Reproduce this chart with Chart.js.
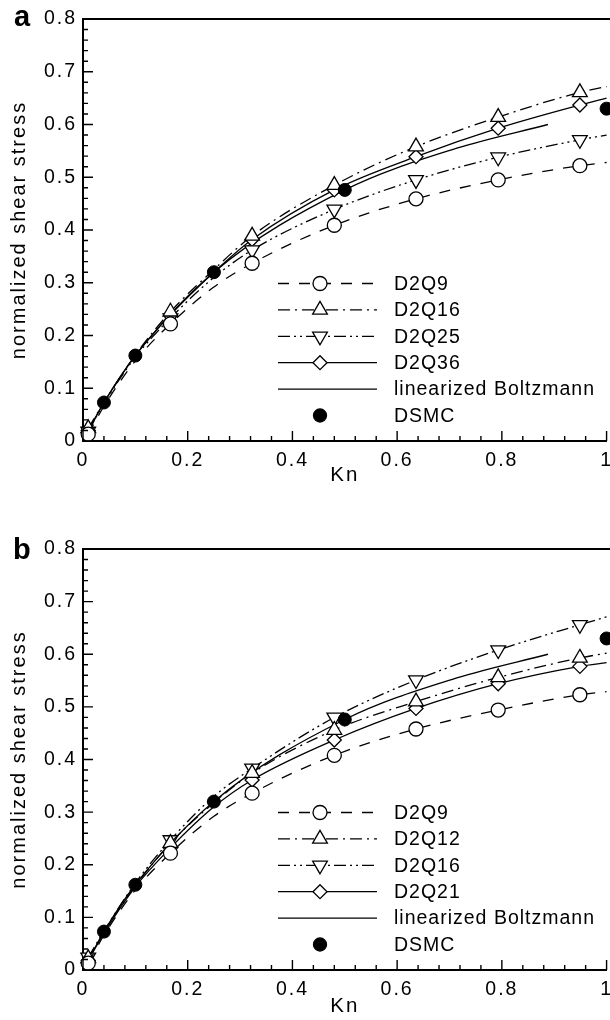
<!DOCTYPE html>
<html>
<head>
<meta charset="utf-8">
<script src="https://cdn.jsdelivr.net/npm/chart.js@4.4.0/dist/chart.umd.min.js"></script>
<style>
  html, body { margin: 0; padding: 0; background: #fff; overflow: hidden; width: 610px; height: 1020px; }
  canvas { position: absolute; left: 0; }
  #chartA { top: 0; }
  #chartB { top: 510px; }
</style>
</head>
<body>
<canvas id="chartA" width="620" height="510"></canvas>
<canvas id="chartB" width="620" height="510"></canvas>
<script>
// Kn positions along the lattice curves (symbols only drawn at knMarks)
const knCurve = [0.01, 0.04, 0.1, 0.167, 0.25, 0.323, 0.48, 0.636, 0.793, 0.949, 1.0];
const knMarks = [0.01, 0.167, 0.323, 0.48, 0.636, 0.793, 0.949];
const knDsmc  = [0.04, 0.1, 0.25, 0.5, 1.0];
const knBoltz = [0.01, 0.04, 0.1, 0.25, 0.5, 0.714, 0.888];

// reference solutions (same in both panels)
const dsmc  = [0.073, 0.162, 0.32, 0.476, 0.63];
const boltz = [0.018, 0.073, 0.162, 0.32, 0.476, 0.555, 0.600];

// panel a
const aD2Q9  = [0.013, 0.066, 0.152, 0.222, 0.292, 0.337, 0.409, 0.459, 0.495, 0.522, 0.528];
const aD2Q16 = [0.024, 0.073, 0.163, 0.245, 0.325, 0.389, 0.485, 0.558, 0.614, 0.661, 0.672];
const aD2Q25 = [0.018, 0.071, 0.159, 0.233, 0.310, 0.362, 0.439, 0.495, 0.538, 0.571, 0.580];
const aD2Q36 = [0.020, 0.073, 0.162, 0.239, 0.320, 0.382, 0.476, 0.539, 0.593, 0.637, 0.650];

// panel b
const bD2Q9  = [0.013, 0.066, 0.152, 0.222, 0.292, 0.336, 0.408, 0.458, 0.494, 0.523, 0.529];
const bD2Q12 = [0.022, 0.072, 0.160, 0.241, 0.318, 0.374, 0.456, 0.510, 0.556, 0.593, 0.602];
const bD2Q16 = [0.024, 0.074, 0.165, 0.247, 0.330, 0.383, 0.480, 0.551, 0.608, 0.656, 0.671];
const bD2Q21 = [0.018, 0.070, 0.158, 0.232, 0.310, 0.361, 0.437, 0.497, 0.544, 0.577, 0.584];

const xLabels = ['0', '0.2', '0.4', '0.6', '0.8', '1'];
const yLabels = ['0', '0.1', '0.2', '0.3', '0.4', '0.5', '0.6', '0.7', '0.8'];

const FONT = '"Liberation Sans", Arial, sans-serif';
Chart.defaults.font.family = FONT;
Chart.defaults.color = '#000';

const DASH   = [11, 10];
const DASHDOT = [12, 5, 2, 5];
const DASHDOTDOT = [12, 4, 2, 4, 2, 4];

const pts = (xs, ys) => xs.map((x, i) => ({ x: x, y: ys[i] }));
const onMark = c => knMarks.includes(knCurve[c.dataIndex]);

function lattice(label, vals, dash, style, rot, r) {
    return {
        label: label,
        data: pts(knCurve, vals),
        borderColor: '#000',
        borderWidth: 1.3,
        borderDash: dash,
        cubicInterpolationMode: 'monotone',
        pointStyle: style,
        rotation: rot,
        pointRadius: c => onMark(c) ? r : 0,
        pointBackgroundColor: '#fff',
        pointBorderColor: '#000',
        pointBorderWidth: 1.3,
        clip: false,
        order: 1,
        mark: { style: style, rot: rot, r: r, fill: '#fff' }
    };
}

function refSets() {
    return [{
        label: 'linearized Boltzmann',
        data: pts(knBoltz, boltz),
        borderColor: '#000',
        borderWidth: 1.3,
        cubicInterpolationMode: 'monotone',
        pointRadius: 0,
        clip: false,
        order: 1
    }, {
        label: 'DSMC',
        data: pts(knDsmc, dsmc),
        showLine: false,
        pointStyle: 'circle',
        pointRadius: 6.5,
        pointBackgroundColor: '#000',
        pointBorderColor: '#000',
        clip: false,
        order: 0,
        mark: { style: 'circle', rot: 0, r: 6.5, fill: '#000' }
    }];
}

const isStep = (v, s) => Math.abs(v / s - Math.round(v / s)) < 1e-6;

// inward ticks, top border, panel letter and the legend box
const frame = {
    id: 'frame',
    beforeDraw(chart) { chart.ctx.letterSpacing = '2px'; },
    afterDraw(chart, args, opts) {
        const { ctx, chartArea: a, scales: { x, y } } = chart;
        ctx.save();
        ctx.strokeStyle = '#000';
        ctx.setLineDash([]);
        ctx.lineWidth = 2;
        ctx.beginPath();
        ctx.moveTo(a.left - 1, a.top);
        ctx.lineTo(a.right + 10, a.top);
        ctx.stroke();

        ctx.lineWidth = 1.4;
        ctx.beginPath();
        x.ticks.forEach(t => {
            const px = x.getPixelForValue(t.value);
            const len = isStep(t.value, 0.2) ? 10 : 5;
            ctx.moveTo(px, a.bottom);
            ctx.lineTo(px, a.bottom - len);
        });
        y.ticks.forEach(t => {
            const py = y.getPixelForValue(t.value);
            const len = isStep(t.value, 0.1) ? 10 : 5;
            ctx.moveTo(a.left, py);
            ctx.lineTo(a.left + len, py);
        });
        ctx.stroke();

        ctx.fillStyle = '#000';
        ctx.textBaseline = 'alphabetic';
        ctx.textAlign = 'left';
        ctx.letterSpacing = '0px';
        ctx.font = 'bold 29px ' + FONT;
        ctx.fillText(opts.letter, opts.lx, opts.ly);

        // legend
        const x0 = a.left + 195, x1 = a.left + 294, xm = a.left + 237, xt = a.left + 311;
        let yy = a.bottom - 157.5;
        ctx.font = '19.5px ' + FONT;
        ctx.letterSpacing = '1px';
        ctx.textBaseline = 'middle';
        chart.data.datasets.forEach(ds => {
            if (ds.showLine !== false) {
                ctx.lineWidth = ds.borderWidth;
                ctx.setLineDash(ds.borderDash || []);
                ctx.beginPath();
                ctx.moveTo(x0, yy);
                ctx.lineTo(x1, yy);
                ctx.stroke();
                ctx.setLineDash([]);
            }
            if (ds.mark) {
                ctx.fillStyle = ds.mark.fill;
                ctx.strokeStyle = '#000';
                ctx.lineWidth = 1.3;
                Chart.helpers.drawPoint(ctx, {
                    pointStyle: ds.mark.style, rotation: ds.mark.rot,
                    radius: ds.mark.r, borderWidth: 1.3
                }, xm, yy);
            }
            ctx.fillStyle = '#000';
            ctx.fillText(ds.label, xt, yy + 1);
            yy += 26.4;
        });
        ctx.restore();
    }
};

function makeChart(id, sets, pad, xTitlePad, letter) {
    const h = 510;
    return new Chart(document.getElementById(id), {
        type: 'line',
        data: { datasets: sets },
        options: {
            responsive: false,
            animation: false,
            events: [],
            layout: { padding: { left: 0, right: 9, top: pad.top, bottom: 0 } },
            plugins: {
                legend: { display: false },
                tooltip: { enabled: false },
                frame: letter
            },
            scales: {
                x: {
                    type: 'linear',
                    min: 0, max: 1,
                    afterFit: s => { s.height = h - pad.bottom; },
                    border: { display: true, width: 2, color: '#000' },
                    grid: { display: true, drawOnChartArea: false, drawTicks: false },
                    ticks: {
                        stepSize: 0.04, autoSkip: false, maxRotation: 0, padding: 8,
                        font: { size: 19.5 },
                        callback: v => isStep(v, 0.2) ? xLabels[Math.round(v / 0.2)] : ''
                    },
                    title: { display: true, text: 'Kn', font: { size: 20.5 }, padding: { top: 0, bottom: xTitlePad } }
                },
                y: {
                    min: 0, max: 0.8,
                    afterFit: s => { s.width = 83; },
                    border: { display: true, width: 2, color: '#000' },
                    grid: { display: true, drawOnChartArea: false, drawTicks: false },
                    ticks: {
                        stepSize: 0.02, autoSkip: false, padding: 6,
                        font: { size: 19.5 },
                        callback: v => isStep(v, 0.1) ? yLabels[Math.round(v / 0.1)] : ''
                    },
                    title: { display: true, text: 'normalized shear stress', font: { size: 20 }, padding: { top: 7, bottom: 0 } }
                }
            }
        },
        plugins: [frame]
    });
}

makeChart('chartA', [
    lattice('D2Q9',  aD2Q9,  DASH, 'circle', 0, 7),
    lattice('D2Q16', aD2Q16, DASHDOT, 'triangle', 0, 8.5),
    lattice('D2Q25', aD2Q25, DASHDOTDOT, 'triangle', 180, 8.5),
    lattice('D2Q36', aD2Q36, [], 'rectRot', 0, 7),
    ...refSets()
], { top: 19, bottom: 441 }, 22, { letter: 'a', lx: 14, ly: 26 });

makeChart('chartB', [
    lattice('D2Q9',  bD2Q9,  DASH, 'circle', 0, 7),
    lattice('D2Q12', bD2Q12, DASHDOT, 'triangle', 0, 8.5),
    lattice('D2Q16', bD2Q16, DASHDOTDOT, 'triangle', 180, 8.5),
    lattice('D2Q21', bD2Q21, [], 'rectRot', 0, 7),
    ...refSets()
], { top: 39, bottom: 460 }, 1, { letter: 'b', lx: 13, ly: 49 });
</script>
</body>
</html>
